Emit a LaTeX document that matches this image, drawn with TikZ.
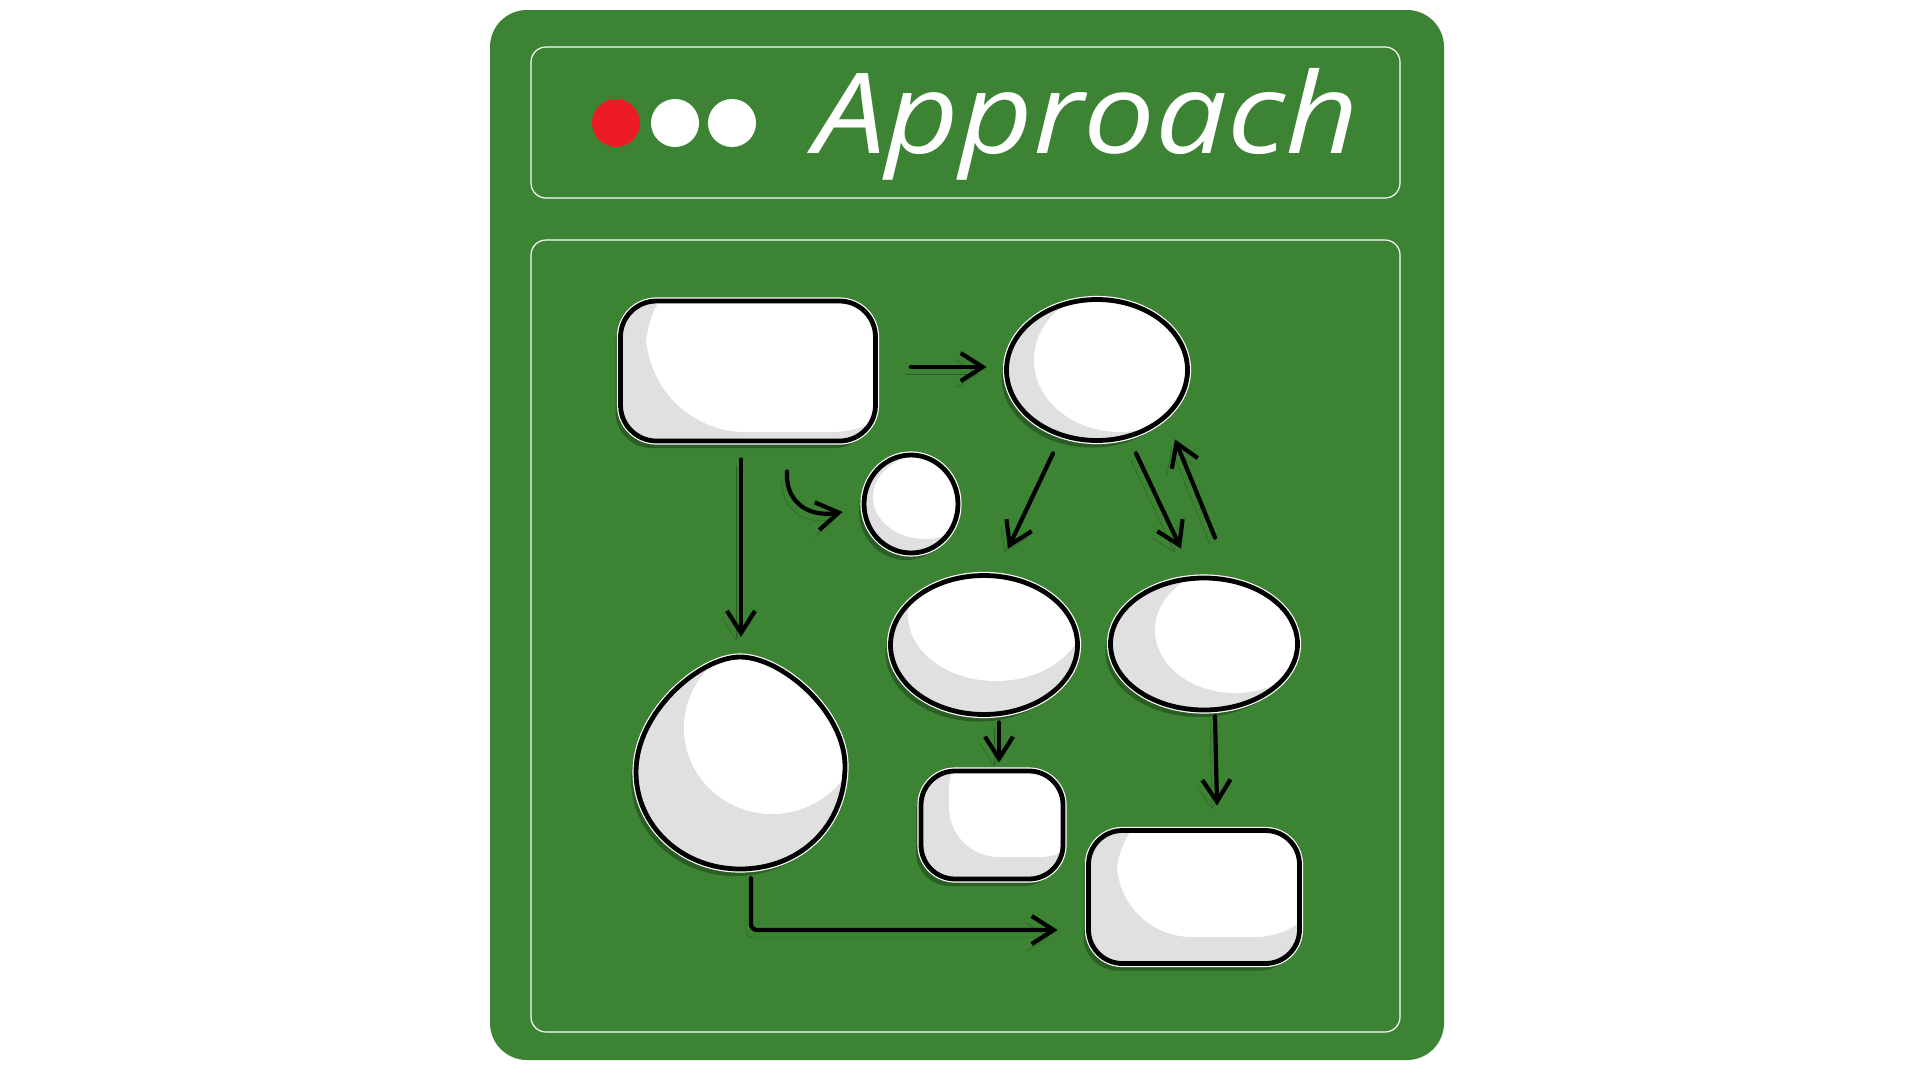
\documentclass[tikz,border=0pt]{standalone}
\usepackage{fontspec}
\newfontfamily\handfont{Open Sans}
\usetikzlibrary{arrows.meta,calc,shapes.geometric}
\definecolor{bggreen}{HTML}{3C8334}
\definecolor{shadowc}{HTML}{2A5E24}
\definecolor{hlgray}{HTML}{E0E0E0}
\definecolor{dotred}{HTML}{ED1C24}
\begin{document}
\begin{tikzpicture}[x=1pt,y=-1pt,
  panel/.style={draw=white, line width=1.2pt, rounded corners=15pt},
  blob/.style={draw=black, line width=4.8pt, fill=hlgray,
    preaction={fill=shadowc, transform canvas={shift={(-5pt,-7pt)}}},
    preaction={draw=white, line width=7.2pt}},
  ellblob/.style={blob, ellipse, inner sep=0pt},
  recblob/.style={blob, rectangle, inner sep=0pt, rounded corners=#1},
  hle/.style n args={4}{path picture={\fill[white] ($(path picture bounding box.center)+(#1,#2)$) ellipse [x radius=#3, y radius=#4];}},
  hlr/.style n args={3}{path picture={\fill[white, rounded corners=#3] ($(path picture bounding box.center)+(#1)$) rectangle ($(path picture bounding box.center)+(#2)$);}},
  arr/.style={draw=black, line width=4.2pt, line cap=round, line join=round,
    -{Straight Barb[length=22pt, width=28pt]},
    preaction={draw=shadowc, transform canvas={shift={(-5pt,-7pt)}}}},
  dot/.style={circle, inner sep=0pt, minimum size=48pt}
]
\useasboundingbox (0,0) rectangle (1920,1080);
\fill[white] (0,0) rectangle (1920,1080);
% frame
\fill[bggreen, rounded corners=37pt] (490,10) rectangle (1444,1060);
\draw[panel] (531,47) rectangle (1400,198);
\draw[panel] (531,240) rectangle (1400,1032);
% header
\node[dot, fill=dotred] (d1) at (616,123) {};
\node[dot, fill=white] (d2) at (675,123) {};
\node[dot, fill=white] (d3) at (732,123) {};
\node[anchor=base west, inner sep=0pt, text=white,
  font=\handfont\itshape\fontsize{112}{120}\selectfont] (title) at (814,153) {\scalebox{1.14}[1]{Approach}};
% nodes
\node[recblob=36pt, minimum width=255pt, minimum height=140pt, hlr={-102,-121}{182,61}{100pt}] (n1) at (748,371) {};
\node[ellblob, minimum width=181pt, minimum height=141pt, hle={23}{-10}{86}{72}] (n2) at (1097,370) {};
\node[ellblob, minimum width=94pt, minimum height=98pt, hle={14}{-7}{52}{42}] (n3) at (911,504) {};
\node[ellblob, minimum width=187pt, minimum height=139pt, hle={12}{-30}{88}{66}] (n4) at (984,645) {};
\node[ellblob, minimum width=187pt, minimum height=132pt, hle={31}{-14}{80}{63}] (n5) at (1204,644) {};
\path[blob, hle={31.5}{-35}{88}{86}] (740,657) .. controls (782,657) and (845,712) .. (845,766)
  .. controls (845,826) and (800,869) .. (740,869)
  .. controls (682,869) and (636,826) .. (636,772)
  .. controls (636,712) and (700,657) .. (740,657) -- cycle;
\node[ellipse, inner sep=0pt, minimum width=209pt, minimum height=212pt] (n6) at (740,763) {};
\node[recblob=34pt, minimum width=142pt, minimum height=108pt, hlr={-43,-85}{98,32}{50pt}] (n7) at (992,825) {};
\node[recblob=34pt, minimum width=211pt, minimum height=133pt, hlr={-77,-97}{136,40}{75pt}] (n8) at (1194,897) {};
% connectors
\draw[arr] ($(n1.east)+(33,-4)$) -- ($(n2.west)+(-17.5,-3)$);
\draw[arr] ($(n1.south)+(-7,16)$) -- ($(n6.north)+(1,-20)$);
\draw[arr] ($(n1.south)+(39,28)$) .. controls ($(n1.south)+(37,56)$) and ($(n3.west)+(-56,14)$) .. ($(n3.west)+(-19,8)$);
\draw[arr] ($(n2.south)+(-44,10.5)$) -- ($(n4.north)+(24,-24.5)$);
\draw[arr] ($(n2.south)+(39,10.5)$) -- ($(n5.north)+(-23,-27)$);
\draw[arr] ($(n5.north)+(11,-38)$) -- ($(n2.south)+(78,-3.5)$);
\draw[arr] ($(n4.south)+(15,5.5)$) -- ($(n7.north)+(7,-6)$);
\draw[arr] ($(n5.south)+(11,4)$) -- ($(n8.north)+(23,-22.5)$);
\coordinate (istart) at ($(n6.south)+(11,9)$);
\coordinate (iend) at ($(n8.west)+(-28.5,33)$);
\draw[arr, rounded corners=6pt] (istart) -- (istart |- iend) -- (iend);
\end{tikzpicture}
\end{document}
